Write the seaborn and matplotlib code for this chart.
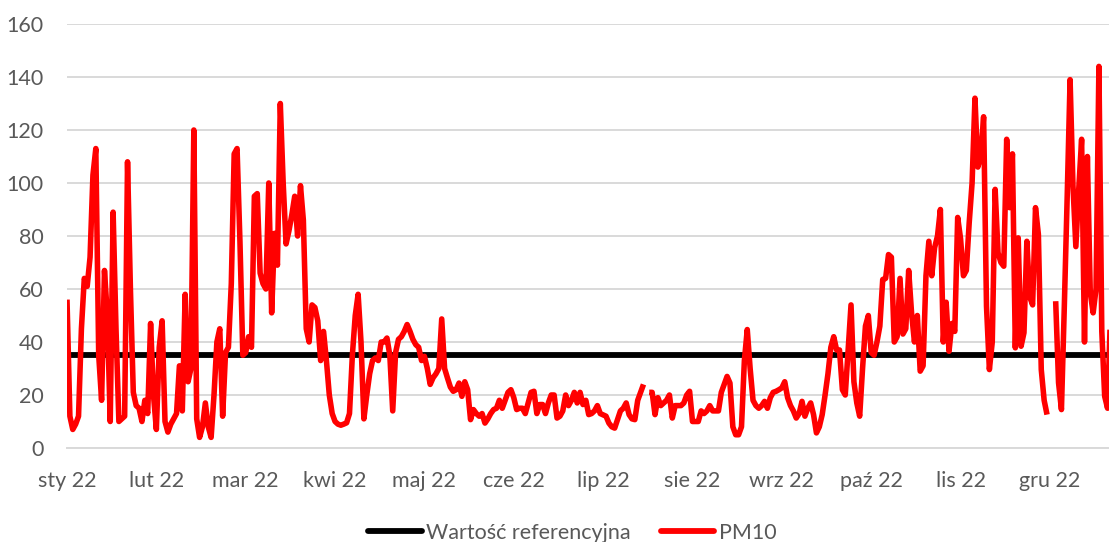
import numpy as np
import pandas as pd
import matplotlib
matplotlib.use("Agg")
import matplotlib.pyplot as plt
from matplotlib.lines import Line2D
import seaborn as sns

# -------------------------------------
# Data (daily PM10, 2022)
# -------------------------------------
nan = np.nan
pm10 = [
    56, 12, 7, 9, 12, 45, 64, 61, 72, 103,
    113, 35, 18, 67, 50, 10, 89, 45, 10, 11,
    12, 108, 60, 21, 16, 15, 10, 18, 13, 47,
    20, 7, 38, 48, 10, 6, 9, 11, 13, 31,
    14, 58, 25, 30, 120, 11, 4, 8, 17, 8,
    4, 20, 40, 45, 12, 36, 38, 62, 111, 113,
    78, 35, 36, 42, 38, 95, 96, 66, 62, 60,
    100, 51, 81, 69, 130, 100, 77, 82, 88, 95,
    80, 99, 86, 45, 40, 54, 53, 48, 33, 44,
    33, 20, 13, 10, 9, 8.6, 9, 9.5, 13, 35,
    50, 58, 40, 11, 20, 28, 33, 34, 33, 40,
    40, 41.5, 35, 14, 36, 41, 42, 44, 46.6, 44,
    41, 39, 38, 33, 34.6, 30, 24, 26.5, 28, 30,
    48.7, 30, 26.4, 23, 21.4, 22, 24.5, 19.5, 25, 22,
    10.7, 14.5, 13, 12, 13, 9.4, 11, 13, 14.5, 15,
    18, 15, 18, 21, 22, 19, 14.5, 15, 15, 13,
    17, 21, 21.4, 13, 16.4, 16.4, 13, 17, 20, 20,
    11.3, 12, 14, 20, 16, 18, 21, 17, 21, 16.4,
    18, 12.6, 13, 14, 16, 13, 12.5, 12, 9.4, 8,
    7.5, 10.7, 14, 15, 17, 12.6, 11, 10.7, 18, 21,
    24, nan, 21, 21, 12.6, 19, 16, 17, 18, 20,
    11.3, 16, 16, 16, 17, 20, 21.4, 10, 10, 10,
    14, 13, 14, 16, 14, 14, 14, 21, 24, 27,
    24.5, 8, 5, 5, 8, 33, 44.7, 30, 18, 16,
    15, 16, 17.6, 15, 19, 21, 21.4, 22, 22.7, 25,
    19, 16, 14, 11.3, 13, 17.6, 12, 15, 17, 12.6,
    5.7, 8, 12.6, 20, 28, 38, 42, 37, 37, 22,
    20, 37, 54, 25, 17, 12, 30, 46, 50, 36,
    35, 40, 46, 63.6, 64, 73, 72, 40, 42, 64,
    43, 45, 67, 51, 40, 50, 29, 31, 65, 78,
    65, 75.6, 80, 90, 40, 55, 36.5, 47, 44, 87,
    79, 65, 67, 85, 100, 132, 106, 110, 125, 53.5,
    29.6, 40, 97.6, 73.7, 70, 68.6, 116.5, 90.7, 111, 37.8,
    79.3, 38.4, 43.5, 78, 57, 54, 90.7, 80.6, 29.6, 18,
    12.6, nan, nan, 55.4, 24.6, 14.5, 53.5, 95, 139, 99,
    76, 97.6, 116.5, 40, 110, 58.6, 51, 60, 144, 44,
    19.5, 15, 50, 60,
]
ref_value = 35
month_labels = ["sty 22", "lut 22", "mar 22", "kwi 22", "maj 22", "cze 22",
                "lip 22", "sie 22", "wrz 22", "paź 22", "lis 22", "gru 22"]
legend_labels = ["Wartość referencyjna", "PM10"]

df = pd.DataFrame({"day": np.arange(len(pm10)), "pm10": pm10})
df["seg"] = df["pm10"].isna().cumsum()   # gaps in the series
df = df.dropna()

# -------------------------------------
# Style
# -------------------------------------
sns.set_style("white")
plt.rcParams["font.family"] = ["Lato", "DejaVu Sans"]
txt_col = "#595959"
grid_col = "#D9D9D9"

fig = plt.figure(figsize=(11.09, 5.42), dpi=100)
ax = fig.add_axes([67 / 1109, 94 / 542, 1 - 67 / 1109, 424 / 542])

ax.axhline(ref_value, color="black", lw=4.2, zorder=2)
sns.lineplot(data=df, x="day", y="pm10", units="seg", estimator=None,
             color="#FF0000", lw=4.0, ax=ax, legend=False, zorder=3,
             solid_capstyle="butt", solid_joinstyle="round")

ax.set_xlim(0, 361.5)
ax.set_ylim(0, 160)
ax.set_yticks(range(0, 161, 20))
ax.set_xticks(np.arange(len(month_labels)) * 31)
ax.set_xticklabels(month_labels)
ax.set_xlabel("")
ax.set_ylabel("")

ax.set_axisbelow(True)
ax.yaxis.grid(True, color=grid_col, lw=1.4)
ax.xaxis.grid(False)
for s in ["left", "right", "top"]:
    ax.spines[s].set_visible(False)
ax.spines["bottom"].set_color(grid_col)
ax.spines["bottom"].set_linewidth(1.4)

ax.tick_params(axis="x", length=4.3, width=1.4, color=grid_col, pad=12,
               labelsize=15.5, labelcolor=txt_col)
ax.tick_params(axis="y", length=0, pad=17, labelsize=15.5, labelcolor=txt_col)

handles = [Line2D([], [], color="black", lw=4.2),
           Line2D([], [], color="#FF0000", lw=4.2)]
fig.legend(handles, legend_labels, loc="center",
           bbox_to_anchor=(572 / 1109, 1 - 533 / 542), ncol=2, frameon=False,
           handlelength=2.5, handletextpad=0.2, columnspacing=1.4,
           fontsize=15.5, labelcolor=txt_col)

fig.savefig("out.png", dpi=100)
